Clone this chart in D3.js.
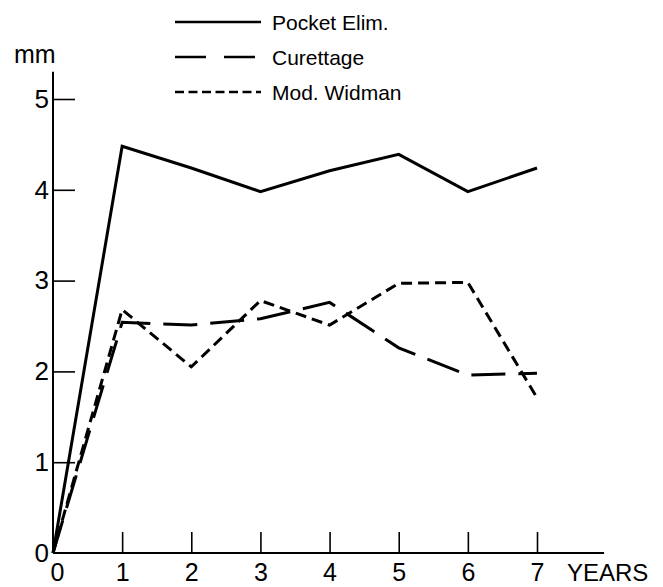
<!DOCTYPE html>
<html lang="en">
<head>
	<meta charset="UTF-8">
	<script src="https://cdnjs.cloudflare.com/ajax/libs/d3/7.8.5/d3.min.js"></script>
	<title>Pocket depth</title>
	<style>
		body { margin: 0; background: #fff; }
		text { font-family: "Liberation Sans", Arial, sans-serif; fill: #000; }
	</style>
</head>
<body>
	<div id="draw-here"></div>
	<script>
		/*data*/
		var years = [0, 1, 2, 3, 4, 5, 6, 7];
		var pocketElim = [0, 4.48, 4.24, 3.98, 4.21, 4.39, 3.98, 4.24];
		var curettage = [0, 2.54, 2.51, 2.58, 2.76, 2.26, 1.96, 1.98];
		var modWidman = [0, 2.68, 2.05, 2.78, 2.51, 2.97, 2.98, 1.71];
		var yTicks = [0, 1, 2, 3, 4, 5];
		var seriesNames = ["Pocket Elim.", "Curettage", "Mod. Widman"];

		var w = 663, h = 587;
		var dashes = [null, "34,13", "11,6"];

		var svg = d3.select("#draw-here")
			.append("svg")
			.attr("width", w)
			.attr("height", h);

		var x = d3.scaleLinear().domain([0, 7]).range([53, 537]);
		var y = d3.scaleLinear().domain([0, 5]).range([553, 99]);

		/*axes lines*/
		svg.append("line")
			.attr("x1", x(0)).attr("x2", x(0))
			.attr("y1", y(0)).attr("y2", y(5.3))
			.attr("stroke", "#000").attr("stroke-width", 2);
		svg.append("line")
			.attr("x1", x(0)).attr("x2", x(7.97))
			.attr("y1", y(0)).attr("y2", y(0))
			.attr("stroke", "#000").attr("stroke-width", 2);

		/*y axis, ticks pointing inwards*/
		var yAxis = svg.append("g")
			.attr("transform", "translate(" + x(0) + ",0)")
			.call(d3.axisLeft(y).tickValues(yTicks).tickSize(-22).tickPadding(4).tickFormat(d3.format("d")));
		yAxis.select(".domain").remove();
		yAxis.selectAll(".tick line").attr("stroke-width", 1.6);
		yAxis.selectAll(".tick text").attr("font-size", 26)
			.attr("font-family", "Liberation Sans, Arial, sans-serif");
		yAxis.selectAll(".tick").filter(function(d) { return d === 0; }).select("line").remove();

		/*x axis*/
		var xAxis = svg.append("g")
			.attr("transform", "translate(0," + y(0) + ")")
			.call(d3.axisBottom(x).tickValues(years).tickSize(-21).tickPadding(10).tickFormat(d3.format("d")));
		xAxis.select(".domain").remove();
		xAxis.selectAll(".tick line").attr("stroke-width", 1.6);
		xAxis.selectAll(".tick text").attr("font-size", 25)
			.attr("font-family", "Liberation Sans, Arial, sans-serif");
		xAxis.selectAll(".tick").filter(function(d) { return d === 0; }).select("line").remove();
		xAxis.selectAll(".tick").filter(function(d) { return d === 0; }).select("text").attr("x", 4);

		svg.append("text")
			.attr("x", 567).attr("y", 581)
			.attr("font-size", 24)
			.text("YEARS");
		svg.append("text")
			.attr("x", 14).attr("y", 63)
			.attr("font-size", 25)
			.text("mm");

		/*lines*/
		var line = d3.line()
			.x(function(d, i) { return x(years[i]); })
			.y(function(d) { return y(d); });

		[pocketElim, curettage, modWidman].forEach(function(s, k) {
			svg.append("path")
				.attr("d", line(s))
				.attr("fill", "none")
				.attr("stroke", "#000")
				.attr("stroke-width", 3)
				.attr("stroke-dasharray", dashes[k]);
		});

		/*legend*/
		var legend = svg.selectAll(".legend")
			.data(seriesNames)
			.enter().append("g")
			.attr("class", "legend")
			.attr("transform", function(d, i) { return "translate(175," + (22 + i * 35) + ")"; });
		legend.append("line")
			.attr("x1", 0).attr("x2", 86)
			.attr("stroke", "#000").attr("stroke-width", 2.6)
			.attr("stroke-dasharray", function(d, i) { return i === 1 ? "31,18" : i === 2 ? "9,4.5" : null; });
		legend.append("text")
			.attr("x", 97).attr("y", 8)
			.attr("font-size", 21)
			.text(function(d) { return d; });
	</script>
</body>
</html>
